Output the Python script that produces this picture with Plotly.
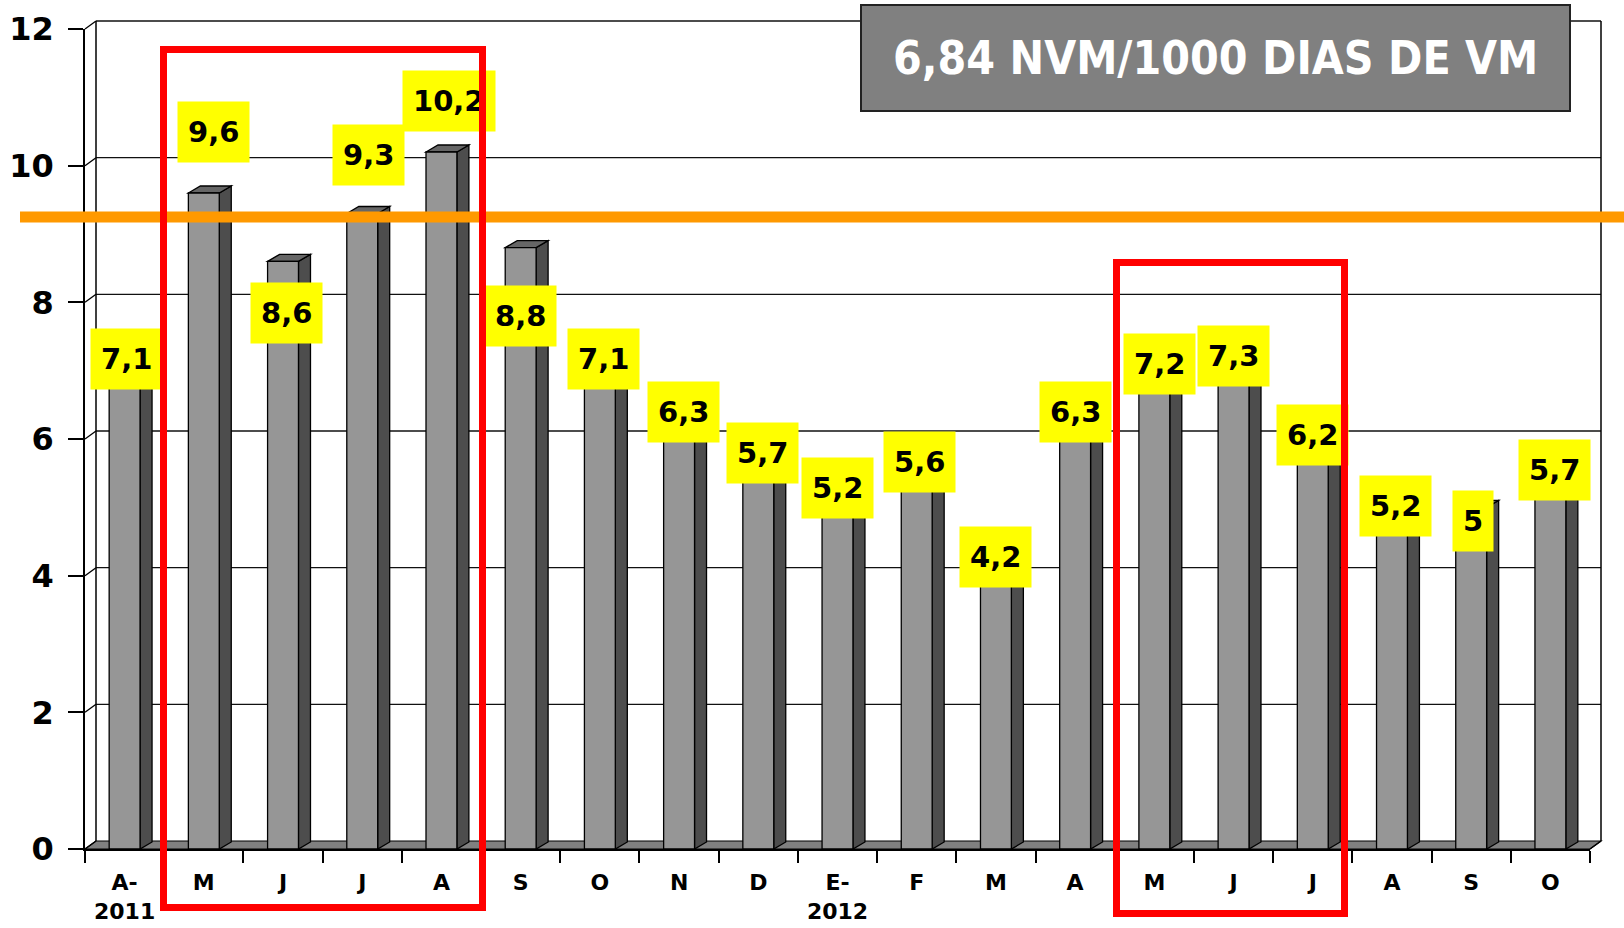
import plotly.graph_objects as go

# ---------------- data ----------------
MONTHS = ["A-<br>2011", "M", "J", "J", "A", "S", "O", "N", "D", "E-<br>2012",
          "F", "M", "A", "M", "J", "J", "A", "S", "O"]
NVM_RATE = [7.1, 9.6, 8.6, 9.3, 10.2, 8.8, 7.1, 6.3, 5.7, 5.2,
            5.6, 4.2, 6.3, 7.2, 7.3, 6.2, 5.2, 5.0, 5.7]
REFERENCE_LEVEL = 9.25
Y_TICKS = [0, 2, 4, 6, 8, 10, 12]
TITLE_TEXT = "6,84 NVM/1000 DIAS DE VM"
HIGHLIGHT_GROUPS = [(1, 4), (13, 15)]          # index ranges boxed in red

# ---------------- label placement (layout only) ----------------
LABEL_DY = [0.07, 0.9, -0.75, 0.85, 0.75, -1.0, 0.07, 0.09, 0.09, 0.09,
            0.07, 0.07, 0.09, -0.1, -0.09, -0.14, -0.18, -0.2, -0.15]
LABEL_DX = [0.02, 0.12, 0.04, 0.08, 0.1, 0.0, 0.04, 0.05, 0.05, 0.0,
            0.04, 0.0, 0.0, 0.07, 0.0, 0.0, 0.04, 0.02, 0.05]
BOX_EXTENT = [(-0.51, 0.52, -0.85, 11.7), (-0.48, 0.4, -0.94, 8.59)]

# ---------------- geometry ----------------
W, H = 1624, 928
ML, MR, MT, MB = 85, 34, 29, 79
PW, PH = W - ML - MR, H - MT - MB
n = len(NVM_RATE)
X0, X1 = -0.5, n - 0.5
Y0, Y1 = 0, 12
XPX = PW / (X1 - X0)
YPX = PH / (Y1 - Y0)

WALL_DX, WALL_DY = 11 / XPX, 8 / YPX
BAR_W = 0.39
BAR_DX, BAR_DY = 12 / XPX, 7 / YPX

HEAVY = "DejaVu Sans, Liberation Sans, Arial, sans-serif"


def px(x):
    return (x - X0) / (X1 - X0)


def py(y):
    return (y - Y0) / (Y1 - Y0)


def poly(pts):
    return "M " + " L ".join(f"{px(a):.5f},{py(b):.5f}" for a, b in pts) + " Z"


shapes = []
# floor
shapes.append(dict(type="path", xref="paper", yref="paper", layer="below",
                   path=poly([(X0, 0), (X1, 0), (X1 + WALL_DX, WALL_DY), (X0 + WALL_DX, WALL_DY)]),
                   fillcolor="#808080", line=dict(color="black", width=1.2)))
# back wall gridlines and left wall connectors
for t in Y_TICKS:
    if t > 0:
        shapes.append(dict(type="line", xref="paper", yref="paper", layer="below",
                           x0=px(X0 + WALL_DX), x1=px(X1 + WALL_DX),
                           y0=py(t + WALL_DY), y1=py(t + WALL_DY),
                           line=dict(color="#111111", width=1.3)))
    shapes.append(dict(type="line", xref="paper", yref="paper", layer="below",
                       x0=px(X0), x1=px(X0 + WALL_DX), y0=py(t), y1=py(t + WALL_DY),
                       line=dict(color="black", width=1.3)))
for xw in (X0 + WALL_DX, X1 + WALL_DX):
    shapes.append(dict(type="line", xref="paper", yref="paper", layer="below",
                       x0=px(xw), x1=px(xw), y0=py(WALL_DY), y1=py(Y1 + WALL_DY),
                       line=dict(color="black", width=1.5)))
shapes.append(dict(type="line", xref="paper", yref="paper", layer="below",
                   x0=px(X1), x1=px(X1 + WALL_DX), y0=py(0), y1=py(WALL_DY),
                   line=dict(color="black", width=1.2)))

# 3D sides and tops of bars
for i, v in enumerate(NVM_RATE):
    xl, xr = i - BAR_W / 2, i + BAR_W / 2
    shapes.append(dict(type="path", xref="paper", yref="paper", layer="below",
                       path=poly([(xr, 0), (xr, v), (xr + BAR_DX, v + BAR_DY), (xr + BAR_DX, BAR_DY)]),
                       fillcolor="#4d4d4d", line=dict(color="black", width=1.3)))
    shapes.append(dict(type="path", xref="paper", yref="paper", layer="below",
                       path=poly([(xl, v), (xr, v), (xr + BAR_DX, v + BAR_DY), (xl + BAR_DX, v + BAR_DY)]),
                       fillcolor="#666666", line=dict(color="black", width=1.3)))

# orange reference line
shapes.append(dict(type="line", xref="paper", yref="paper", layer="above",
                   x0=(20 - ML) / PW, x1=(W - ML) / PW,
                   y0=py(REFERENCE_LEVEL), y1=py(REFERENCE_LEVEL),
                   line=dict(color="#FF9900", width=11)))
# title box
shapes.append(dict(type="rect", xref="paper", yref="paper", layer="above",
                   x0=(861 - ML) / PW, x1=(1570 - ML) / PW,
                   y0=(H - MB - 111) / PH, y1=(H - MB - 5) / PH,
                   fillcolor="#808080", line=dict(color="#222222", width=2)))

annotations = []
for i, v in enumerate(NVM_RATE):
    annotations.append(dict(
        x=px(i + LABEL_DX[i]), y=py(v + LABEL_DY[i]), xref="paper", yref="paper",
        text=f"{v:g}".replace(".", ","), showarrow=False,
        bgcolor="#FFFF00", borderpad=10, height=40,
        font=dict(family=HEAVY, size=29, color="black", weight="bold"),
        xanchor="center", yanchor="middle"))

annotations.append(dict(
    x=((861 + 1570) / 2 - ML) / PW, y=(H - MB - 58) / PH, xref="paper", yref="paper",
    text=TITLE_TEXT, showarrow=False, xanchor="center", yanchor="middle",
    font=dict(family="DejaVu Sans Condensed, DejaVu Sans, sans-serif",
              size=46, color="white", weight="bold")))

# red highlight boxes (annotations so they sit above the labels)
RED_W = 7
for (a, b), (pl, pr, yb, yt) in zip(HIGHLIGHT_GROUPS, BOX_EXTENT):
    xa, xb = a + pl, b + pr
    annotations.append(dict(
        x=px((xa + xb) / 2), y=py((yb + yt) / 2), xref="paper", yref="paper",
        text=" ", showarrow=False, xanchor="center", yanchor="middle",
        width=(xb - xa) * XPX - RED_W, height=(yt - yb) * YPX - RED_W,
        borderpad=0, bordercolor="#FF0000", borderwidth=RED_W,
        bgcolor="rgba(0,0,0,0)", font=dict(size=4)))

fig = go.Figure()
fig.add_trace(go.Bar(
    x=list(range(n)), y=NVM_RATE, width=BAR_W,
    marker=dict(color="#969696", line=dict(color="black", width=1.3)),
    hoverinfo="skip", showlegend=False))
fig.add_trace(go.Scatter(x=[X0, X1], y=[0, 0], xaxis="x2", mode="markers",
                         marker=dict(opacity=0), hoverinfo="skip", showlegend=False))

fig.update_layout(
    width=W, height=H,
    margin=dict(l=ML, r=MR, t=MT, b=MB, pad=0, autoexpand=False),
    paper_bgcolor="white", plot_bgcolor="rgba(0,0,0,0)",
    showlegend=False, shapes=shapes, annotations=annotations,
    xaxis=dict(range=[X0, X1], tickvals=list(range(n)), ticktext=MONTHS,
               ticks="outside", ticklen=14, tickcolor="rgba(0,0,0,0)", automargin=False,
               showgrid=False, zeroline=False, showline=False, fixedrange=True,
               tickfont=dict(family=HEAVY, size=22, color="black", weight="bold")),
    xaxis2=dict(range=[X0, X1], overlaying="x", anchor="y", side="bottom",
                tickvals=[k - 0.5 for k in range(n + 1)], ticks="outside", ticklen=12,
                tickwidth=1.5, tickcolor="black", showticklabels=False, automargin=False,
                showgrid=False, zeroline=False, showline=True, linecolor="black",
                linewidth=1.5, fixedrange=True),
    yaxis=dict(range=[Y0, Y1], tickvals=Y_TICKS, ticks="outside", ticklen=15,
               tickwidth=1.5, tickcolor="black", showgrid=False, zeroline=False,
               showline=True, linecolor="black", linewidth=1.5, fixedrange=True,
               ticklabelstandoff=8, automargin=False,
               tickfont=dict(family=HEAVY, size=32, color="black", weight="bold")),
)

fig.write_html("out.html", config={"displayModeBar": False},
               post_script="document.body.style.margin='0';")
